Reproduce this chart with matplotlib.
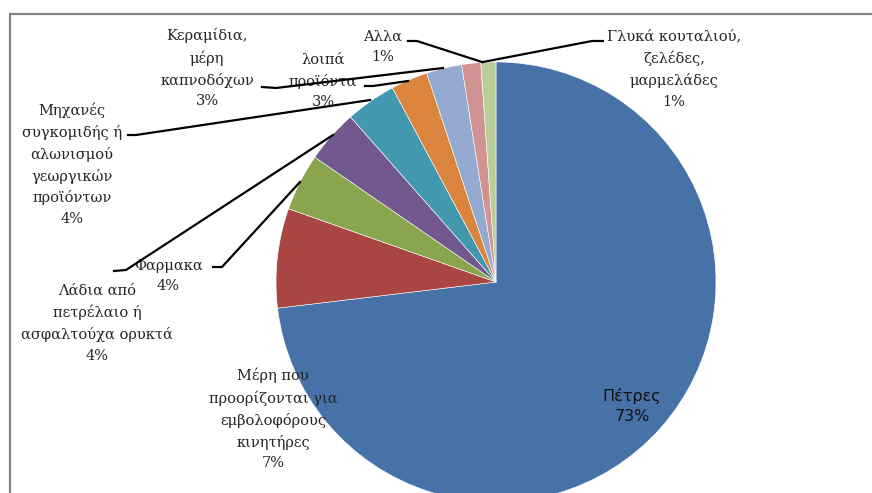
import matplotlib.pyplot as plt
from matplotlib.patches import Rectangle

# slice data (clockwise from 12 o'clock)
categories = [
    'Πέτρες',
    'Μέρη που\nπροορίζονται για\nεμβολοφόρους\nκινητήρες',
    'Φαρμακα',
    'Λάδια από\nπετρέλαιο ή\nασφαλτούχα ορυκτά',
    'Μηχανές\nσυγκομιδής ή\nαλωνισμού\nγεωργικών\nπροϊόντων',
    'λοιπά\nπροϊόντα',
    'Κεραμίδια,\nμέρη\nκαπνοδόχων',
    'Αλλα',
    'Γλυκά κουταλιού,\nζελέδες,\nμαρμελάδες',
]
shares = [73.1, 7.3, 4.2, 3.9, 3.7, 2.7, 2.6, 1.4, 1.1]
colors = ['#4672A8', '#A94643', '#89A54E', '#71588F', '#4198AF',
          '#DB843D', '#93A9CF', '#D19392', '#B9CD96']

# label centres and leader paths, in pixel coords (y from top)
label_pos = [(632, 406), (273, 419), (168, 276), (97, 323), (72, 164),
             (323, 81), (207, 68), (383, 47), (674, 69)]
leaders = [
    None,
    None,
    [(213, 267), (222, 267), (300, 182)],
    [(114, 271), (126, 270), (333, 135)],
    [(128, 135), (136, 135), (370, 100)],
    [(365, 86), (373, 86), (408, 81)],
    [(262, 87), (276, 88), (443, 68)],
    [(408, 41), (417, 41), (482, 62)],
    [(603, 41), (592, 41), (483, 62)],
]

W, H = 872, 493
fig = plt.figure(figsize=(W / 100, H / 100), dpi=100)
ax = fig.add_axes([0, 0, 1, 1])

# chart frame (only left and top edges visible)
ax.add_patch(Rectangle((9.5, -20), 900, H - 13.5 + 20, fill=False,
                       edgecolor='#868686', linewidth=1.6, zorder=0))

ax.pie(shares, colors=colors, startangle=90, counterclock=False,
       center=(496, H - 282), radius=220, frame=True,
       wedgeprops=dict(edgecolor='white', linewidth=0.4))
ax.set_xlim(0, W)
ax.set_ylim(0, H)
ax.set_aspect('equal')
ax.axis('off')

for i, (name, val) in enumerate(zip(categories, shares)):
    x, y = label_pos[i]
    txt = f"{name}\n{round(val)}%"
    if i == 0:
        ax.text(x, H - y, txt, ha='center', va='center', fontsize=11.5,
                family='DejaVu Sans', color='#111111', linespacing=1.4)
    else:
        ax.text(x, H - y, txt, ha='center', va='center', fontsize=10.5,
                family='DejaVu Serif', color='#262626', linespacing=1.58)
    if leaders[i]:
        xs = [p[0] for p in leaders[i]]
        ys = [H - p[1] for p in leaders[i]]
        ax.plot(xs, ys, color='black', linewidth=1.6, zorder=5)

fig.savefig('out.png', dpi=100)
